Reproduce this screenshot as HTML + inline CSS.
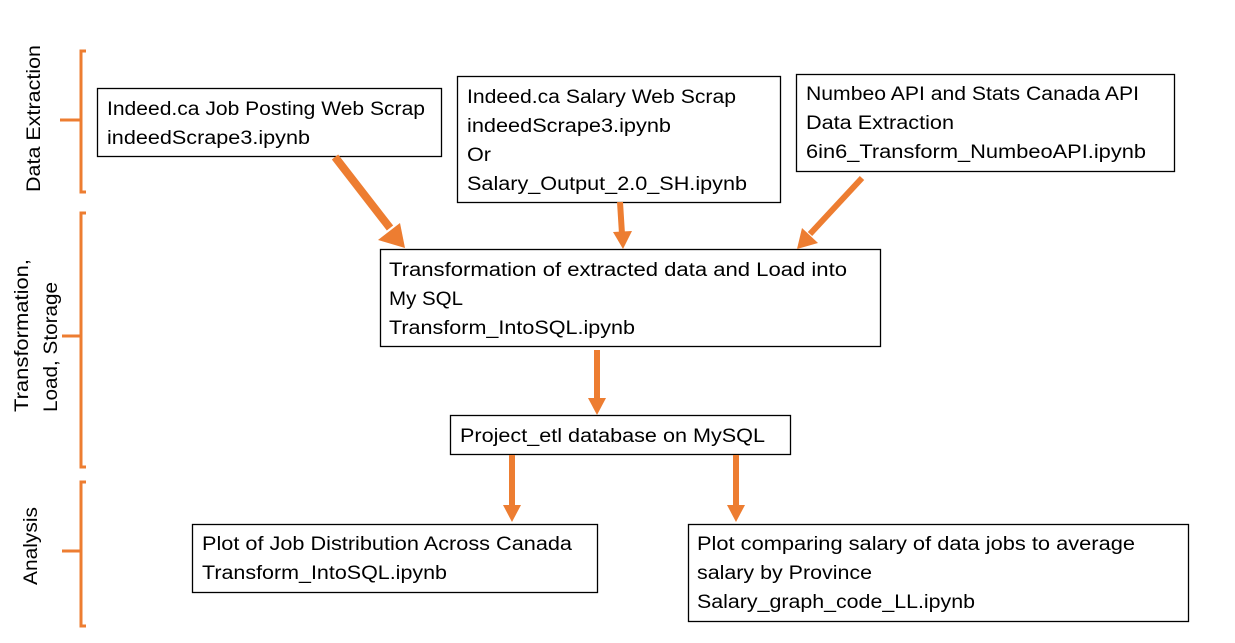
<!DOCTYPE html>
<html><head><meta charset="utf-8"><style>
html,body{margin:0;padding:0;background:#fff;}
svg{display:block;}
text{font-family:"Liberation Sans",sans-serif;font-size:19px;fill:#000;}
</style></head><body>
<svg width="1235" height="643" viewBox="0 0 1235 643" xmlns="http://www.w3.org/2000/svg">
<g fill="none" stroke="#ED7D31" stroke-width="3">
<path d="M86,51 H81 V192 H86"/><path d="M60,120 H81"/>
<path d="M86,213 H81 V467 H86"/><path d="M62,336 H81"/>
<path d="M86,482 H81 V626 H86"/><path d="M62,551 H81"/>
</g>
<g>
<text transform="translate(40,192) rotate(-90)" textLength="147" lengthAdjust="spacingAndGlyphs">Data Extraction</text>
<text transform="translate(28,412) rotate(-90)" textLength="153" lengthAdjust="spacingAndGlyphs">Transformation,</text>
<text transform="translate(57,412) rotate(-90)" textLength="130" lengthAdjust="spacingAndGlyphs">Load, Storage</text>
<text transform="translate(37,585) rotate(-90)" textLength="78" lengthAdjust="spacingAndGlyphs">Analysis</text>
</g>
<g fill="#fff" stroke="#000" stroke-width="1.3">
<rect x="97.5" y="88.5" width="344" height="68"/>
<rect x="457.5" y="76.5" width="323" height="126"/>
<rect x="796.5" y="74.5" width="378" height="97"/>
<rect x="380.5" y="249.5" width="500" height="97"/>
<rect x="450.5" y="415.5" width="340" height="39"/>
<rect x="192.5" y="524.5" width="405" height="68"/>
<rect x="688.5" y="524.5" width="500" height="97"/>
</g>
<g>
<text x="107" y="115" textLength="318" lengthAdjust="spacingAndGlyphs">Indeed.ca Job Posting Web Scrap</text>
<text x="107" y="144" textLength="203" lengthAdjust="spacingAndGlyphs">indeedScrape3.ipynb</text>
<text x="467" y="103" textLength="269" lengthAdjust="spacingAndGlyphs">Indeed.ca Salary Web Scrap</text>
<text x="467" y="132" textLength="204" lengthAdjust="spacingAndGlyphs">indeedScrape3.ipynb</text>
<text x="467" y="161" textLength="24" lengthAdjust="spacingAndGlyphs">Or</text>
<text x="467" y="190" textLength="280" lengthAdjust="spacingAndGlyphs">Salary_Output_2.0_SH.ipynb</text>
<text x="806" y="100" textLength="333" lengthAdjust="spacingAndGlyphs">Numbeo API and Stats Canada API</text>
<text x="806" y="129" textLength="148" lengthAdjust="spacingAndGlyphs">Data Extraction</text>
<text x="806" y="158" textLength="340" lengthAdjust="spacingAndGlyphs">6in6_Transform_NumbeoAPI.ipynb</text>
<text x="389" y="276" textLength="458" lengthAdjust="spacingAndGlyphs">Transformation of extracted data and Load into</text>
<text x="389" y="305" textLength="74" lengthAdjust="spacingAndGlyphs">My SQL</text>
<text x="389" y="334" textLength="246" lengthAdjust="spacingAndGlyphs">Transform_IntoSQL.ipynb</text>
<text x="460" y="442" textLength="305" lengthAdjust="spacingAndGlyphs">Project_etl database on MySQL</text>
<text x="202" y="550" textLength="370" lengthAdjust="spacingAndGlyphs">Plot of Job Distribution Across Canada</text>
<text x="202" y="579" textLength="245" lengthAdjust="spacingAndGlyphs">Transform_IntoSQL.ipynb</text>
<text x="697" y="550" textLength="438" lengthAdjust="spacingAndGlyphs">Plot comparing salary of data jobs to average</text>
<text x="697" y="579" textLength="175" lengthAdjust="spacingAndGlyphs">salary by Province</text>
<text x="697" y="608" textLength="278" lengthAdjust="spacingAndGlyphs">Salary_graph_code_LL.ipynb</text>
</g>
<g stroke="#ED7D31" fill="#ED7D31">
<line x1="335" y1="157" x2="390" y2="228" stroke-width="8"/>
<polygon points="405,248 378,240 400,223" stroke="none"/>
<line x1="620" y1="202" x2="622" y2="234" stroke-width="6"/>
<polygon points="623,249 613,232 632,231" stroke="none"/>
<line x1="862" y1="178" x2="810" y2="234" stroke-width="6"/>
<polygon points="797,249 802,228 818,243" stroke="none"/>
<line x1="597" y1="350" x2="597" y2="400" stroke-width="6"/>
<polygon points="588,398 606,398 597,415" stroke="none"/>
<line x1="512" y1="455" x2="512" y2="508" stroke-width="6"/>
<polygon points="503,505 521,505 512,522" stroke="none"/>
<line x1="736" y1="455" x2="736" y2="508" stroke-width="6"/>
<polygon points="727,505 745,505 736,522" stroke="none"/>
</g>
</svg>
</body></html>
